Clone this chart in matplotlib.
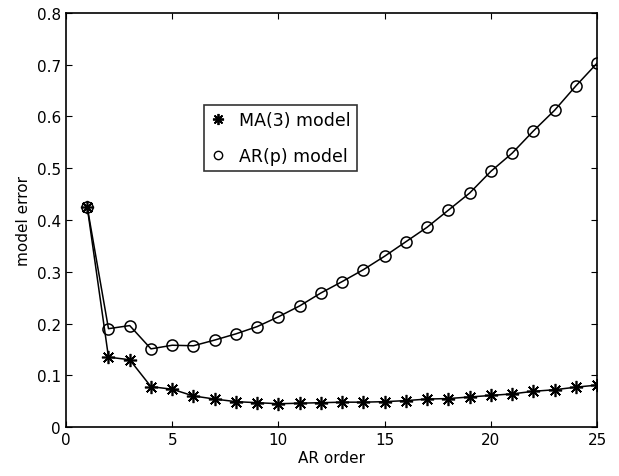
import numpy as np
import matplotlib
matplotlib.use('Agg')
import matplotlib.pyplot as plt
from matplotlib.lines import Line2D

plt.rcParams['font.family'] = ['DejaVu Sans']
plt.rcParams['font.size'] = 11

# AR order and model errors
order = list(range(1, 26))
ma3_err = [0.425, 0.135, 0.130, 0.078, 0.073, 0.060, 0.054, 0.049, 0.047, 0.045,
           0.046, 0.047, 0.048, 0.048, 0.049, 0.051, 0.054, 0.055, 0.058, 0.061,
           0.064, 0.069, 0.072, 0.077, 0.081]
arp_err = [0.425, 0.190, 0.196, 0.151, 0.158, 0.157, 0.168, 0.180, 0.194, 0.213,
           0.234, 0.259, 0.281, 0.304, 0.330, 0.358, 0.386, 0.419, 0.452, 0.494,
           0.529, 0.572, 0.612, 0.659, 0.703]

star = (8, 2, 0)  # asterisk like MATLAB '*'

fig = plt.figure(figsize=(6.19, 4.77), dpi=100)
ax = fig.add_axes([0.1066, 0.1027, 0.858, 0.868])

ax.plot(order, arp_err, color='black', linewidth=1.1, marker='o', markersize=8,
        markerfacecolor='none', markeredgewidth=1.1)
ax.plot(order, ma3_err, color='black', linewidth=1.1, marker=star, markersize=9.5,
        markeredgewidth=1.2)

ax.set_xlim(0, 25)
ax.set_ylim(0, 0.8)
ax.set_xticks([0, 5, 10, 15, 20, 25])
ax.set_yticks(np.arange(0, 0.81, 0.1))
ax.set_yticklabels(['0', '0.1', '0.2', '0.3', '0.4', '0.5', '0.6', '0.7', '0.8'])
ax.tick_params(direction='in', length=4, top=True, right=True, labelsize=11)
for s in ax.spines.values():
    s.set_linewidth(1.2)

ax.set_xlabel('AR order', fontsize=11, labelpad=2)
ax.set_ylabel('model error', fontsize=11, labelpad=4)

handles = [Line2D([], [], color='black', marker=star, linestyle='none', markersize=8,
                  markeredgewidth=1.3),
           Line2D([], [], color='black', marker='o', linestyle='none', markersize=6,
                  markerfacecolor='none')]
leg = ax.legend(handles, ['MA(3) model', 'AR(p) model'], loc='upper left',
                bbox_to_anchor=(0.259, 0.777), frameon=True, fancybox=False,
                edgecolor='black', handlelength=1.0, handletextpad=0.7,
                borderpad=0.35, labelspacing=1.0, fontsize=12.5, borderaxespad=0)
leg.get_frame().set_linewidth(1.2)

fig.savefig('out.png', dpi=100)
